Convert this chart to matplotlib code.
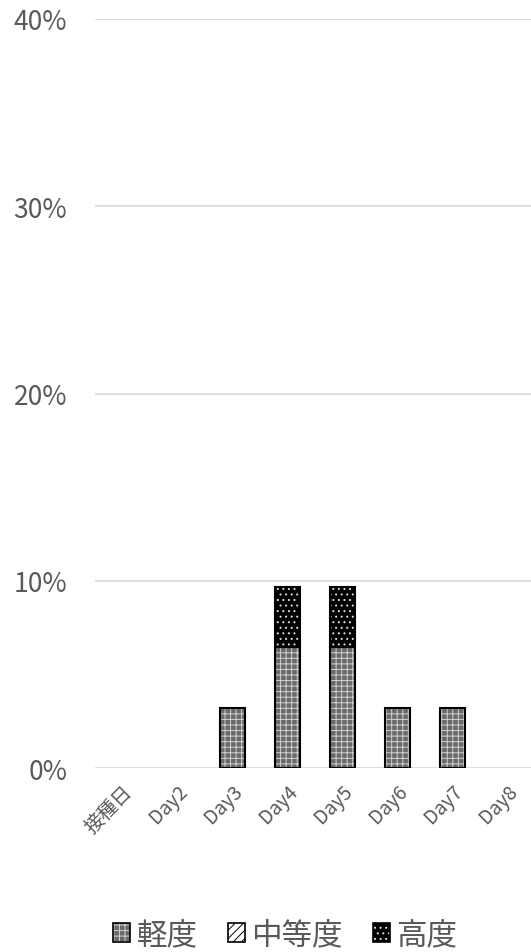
import matplotlib
matplotlib.use("Agg")
import matplotlib.pyplot as plt
from matplotlib.patches import Patch
from matplotlib.legend_handler import HandlerTuple
import numpy as np

plt.rcParams['font.family'] = ['Noto Sans CJK JP', 'DejaVu Sans']

categories = ['接種日', 'Day2', 'Day3', 'Day4', 'Day5', 'Day6', 'Day7', 'Day8']
mild = [0, 0, 3.23, 6.45, 6.45, 3.23, 3.23, 0]
moderate = [0, 0, 0, 0, 0, 0, 0, 0]
severe = [0, 0, 0, 3.23, 3.23, 0, 0, 0]
series_names = ['軽度', '中等度', '高度']
yticks = [0, 10, 20, 30, 40]

plt.rcParams['hatch.linewidth'] = 0.7

fig = plt.figure(figsize=(5.31, 9.53), dpi=100)
ax = fig.add_axes([95/531, 1-769/953, 440/531, 749/953])

x = np.arange(len(categories))
w = 0.44
styles = [
    dict(face='#6a6a6a', hatch='+++', hc='#d0d0d0'),
    dict(face='white', hatch='////', hc='black'),
    dict(face='black', hatch='...', hc='#e0e0e0'),
]
bottom = np.zeros(len(categories))
for vals, st in zip([mild, moderate, severe], styles):
    vals = np.array(vals, dtype=float)
    ax.bar(x, vals, w, bottom=bottom, color=st['face'], hatch=st['hatch'],
           edgecolor=st['hc'], linewidth=0, zorder=3)
    ax.bar(x, vals, w, bottom=bottom, fill=False, edgecolor='black',
           linewidth=np.where(vals > 0, 1.5, 0), zorder=4)
    bottom += vals

ax.set_xlim(-0.5, len(categories) - 0.5)
ax.set_ylim(0, 40)
ax.set_yticks(yticks)
ax.set_yticklabels([f'{v}%' for v in yticks], fontsize=19, color='#595959')
ax.yaxis.grid(True, color='#d9d9d9', linewidth=1.2, zorder=0)
ax.set_axisbelow(True)
for s in ax.spines.values():
    s.set_visible(False)
ax.tick_params(axis='both', length=0)
ax.tick_params(axis='y', pad=20)
ax.set_xticks(x)
ax.set_xticklabels(categories, rotation=45, ha='right', rotation_mode='anchor',
                   fontsize=14, color='#595959')
ax.tick_params(axis='x', pad=9)

handles = []
for st in styles:
    h1 = Patch(facecolor=st['face'], hatch=st['hatch'], edgecolor=st['hc'], linewidth=0)
    h2 = Patch(fill=False, edgecolor='black', linewidth=1.2)
    handles.append((h1, h2))
leg = fig.legend(handles, series_names, loc='center', bbox_to_anchor=(0.537, 1-936/953),
                 ncol=3, frameon=False, fontsize=22, handlelength=0.55, handleheight=0.55,
                 handletextpad=0.2, columnspacing=1.0,
                 handler_map={tuple: HandlerTuple(ndivide=1)})
for t in leg.get_texts():
    t.set_color('#595959')

fig.savefig('out.png', dpi=100)
